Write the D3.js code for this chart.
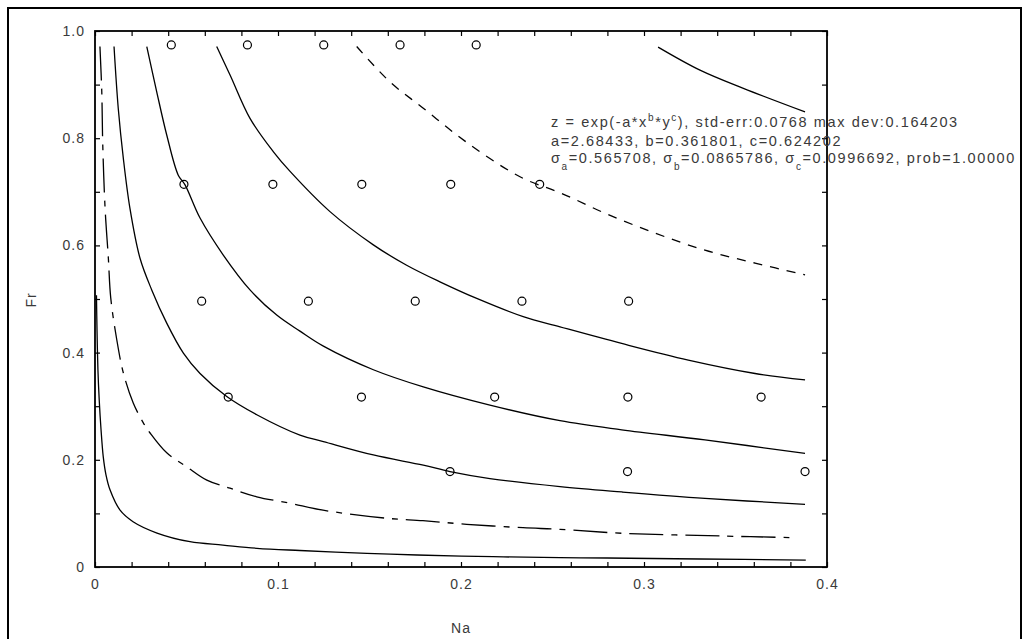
<!DOCTYPE html>
<html>
<head>
<meta charset="utf-8">
<script src="https://cdn.jsdelivr.net/npm/d3@7"></script>
<style>
  html, body { margin: 0; padding: 0; background: #fff; }
  svg { display: block; }
  text { font-family: "Liberation Sans", Arial, sans-serif; fill: #3a3a3a; }
</style>
</head>
<body>
<svg id="chart" width="1024" height="639"></svg>
<script>
// ---------- data ----------
const xTickValues = [0, 0.02, 0.04, 0.06, 0.08, 0.1, 0.12, 0.14, 0.16, 0.18, 0.2, 0.22, 0.24, 0.26, 0.28, 0.3, 0.32, 0.34, 0.36, 0.38, 0.4];
const xTickLabels = ["0", "0.1", "0.2", "0.3", "0.4"];
const yTickValues = [0, 0.1, 0.2, 0.3, 0.4, 0.5, 0.6, 0.7, 0.8, 0.9, 1.0];
const yTickLabels = ["0", "0.2", "0.4", "0.6", "0.8", "1.0"];
const xTitle = "Na";
const yTitle = "Fr";

// observed points (Na, Fr)
const pointsNa = [0.0417, 0.0833, 0.125, 0.1667, 0.2083,
                  0.0486, 0.0972, 0.1458, 0.1944, 0.243,
                  0.0583, 0.1166, 0.175, 0.2333, 0.2916,
                  0.0728, 0.1456, 0.2184, 0.2912, 0.364,
                  0.194, 0.291, 0.388];
const pointsFr = [0.974, 0.974, 0.974, 0.974, 0.974,
                  0.714, 0.714, 0.714, 0.714, 0.714,
                  0.496, 0.496, 0.496, 0.496, 0.496,
                  0.317, 0.317, 0.317, 0.317, 0.317,
                  0.178, 0.178, 0.178];

// contour lines of the fitted surface as [Na, Fr]
const contourA = [[0.0008,0.507],[0.0011,0.442],[0.0016,0.368],[0.0023,0.312],[0.0033,0.256],[0.0045,0.206],[0.006,0.172],[0.0082,0.144],[0.0137,0.106],[0.0208,0.0845],[0.0339,0.0634],[0.0519,0.0472],[0.0699,0.041],[0.0885,0.0349],[0.112,0.0308],[0.1486,0.0256],[0.176,0.0224],[0.2175,0.0192],[0.2541,0.0174],[0.2798,0.0168],[0.3306,0.0149],[0.3884,0.013]];
const contourB = [[0.0027,0.971],[0.0037,0.887],[0.0042,0.793],[0.0055,0.670],[0.0073,0.576],[0.0086,0.502],[0.0119,0.424],[0.0155,0.362],[0.0209,0.306],[0.0264,0.269],[0.0301,0.25],[0.0392,0.213],[0.0501,0.187],[0.0611,0.162],[0.0738,0.147],[0.0884,0.131],[0.1066,0.119],[0.1246,0.106],[0.1594,0.0909],[0.1792,0.0864],[0.2031,0.0797],[0.2339,0.0733],[0.2541,0.0703],[0.2878,0.0629],[0.3425,0.0578],[0.3834,0.0547]];
const contourC = [[0.0104,0.971],[0.0127,0.856],[0.0155,0.762],[0.0191,0.669],[0.0246,0.576],[0.031,0.517],[0.0392,0.455],[0.0483,0.399],[0.0574,0.361],[0.072,0.318],[0.0884,0.284],[0.112,0.246],[0.1248,0.234],[0.1521,0.209],[0.1794,0.19],[0.194,0.178],[0.2158,0.165],[0.2541,0.15],[0.2878,0.140],[0.3333,0.128],[0.388,0.117]];
const contourD = [[0.0283,0.971],[0.0337,0.887],[0.0392,0.806],[0.0455,0.731],[0.0492,0.713],[0.0574,0.651],[0.0701,0.582],[0.0847,0.517],[0.0993,0.470],[0.112,0.440],[0.1248,0.412],[0.1521,0.368],[0.1794,0.336],[0.2158,0.302],[0.2541,0.273],[0.2878,0.256],[0.3333,0.237],[0.388,0.212]];
const contourE = [[0.0665,0.971],[0.0738,0.918],[0.0847,0.837],[0.0974,0.775],[0.1066,0.738],[0.1284,0.663],[0.1521,0.601],[0.1703,0.563],[0.1885,0.532],[0.2086,0.501],[0.234,0.467],[0.2541,0.448],[0.2878,0.417],[0.3242,0.386],[0.3607,0.361],[0.388,0.349]];
const contourF = [[0.143,0.971],[0.1612,0.905],[0.1794,0.856],[0.1977,0.806],[0.2158,0.762],[0.234,0.725],[0.255,0.697],[0.2787,0.66],[0.306,0.623],[0.3333,0.591],[0.3607,0.567],[0.388,0.545]];
const contourG = [[0.3077,0.970],[0.3306,0.927],[0.3543,0.893],[0.388,0.849]];

const fitLine1 = ["z = exp(-a*x", "b", "*y", "c", "), std-err:0.0768 max dev:0.164203"];
const fitLine2 = "a=2.68433, b=0.361801, c=0.624202";
const fitLine3 = ["σ", "a", "=0.565708, σ", "b", "=0.0865786, σ", "c", "=0.0996692, prob=1.00000"];

// ---------- drawing ----------
const svg = d3.select("#chart");
const plot = {left: 95, right: 827, top: 31, bottom: 567};

const x = d3.scaleLinear().domain([0, 0.4]).range([plot.left, plot.right]);
const y = d3.scaleLinear().domain([0, 1]).range([plot.bottom, plot.top]);

// outer frame
svg.append("rect").attr("x", 8).attr("y", 8).attr("width", 1013).attr("height", 640)
  .attr("fill", "none").attr("stroke", "#000").attr("stroke-width", 2);

const labelFmtX = d => {
  const i = Math.round(d / 0.1);
  return Math.abs(d - i * 0.1) < 1e-9 ? xTickLabels[i] : "";
};
const labelFmtY = d => {
  const i = Math.round(d / 0.2);
  return Math.abs(d - i * 0.2) < 1e-9 ? yTickLabels[i] : "";
};

function styleAxis(g) {
  g.select(".domain").remove();
  g.selectAll(".tick line").attr("stroke", "#000").attr("stroke-width", 1.2);
  g.selectAll(".tick text").attr("fill", "#444")
    .style("font-size", "14px").style("letter-spacing", "1px");
}

svg.append("g").attr("transform", `translate(0,${plot.bottom})`)
  .call(d3.axisBottom(x).tickValues(xTickValues).tickSize(-5).tickPadding(12).tickFormat(labelFmtX))
  .call(styleAxis);
svg.append("g").attr("transform", `translate(0,${plot.top})`)
  .call(d3.axisTop(x).tickValues(xTickValues).tickSize(-5).tickFormat(() => ""))
  .call(styleAxis);
svg.append("g").attr("transform", `translate(${plot.left},0)`)
  .call(d3.axisLeft(y).tickValues(yTickValues).tickSize(-5).tickPadding(10).tickFormat(labelFmtY))
  .call(styleAxis);
svg.append("g").attr("transform", `translate(${plot.right},0)`)
  .call(d3.axisRight(y).tickValues(yTickValues).tickSize(-5).tickFormat(() => ""))
  .call(styleAxis);

// plot box
svg.append("rect").attr("x", plot.left).attr("y", plot.top)
  .attr("width", plot.right - plot.left).attr("height", plot.bottom - plot.top)
  .attr("fill", "none").attr("stroke", "#000").attr("stroke-width", 1.8);

// contour lines
const line = d3.line().x(d => x(d[0])).y(d => y(d[1])).curve(d3.curveCatmullRom.alpha(0.5));
const contours = [
  {data: contourA, dash: null},
  {data: contourB, dash: "34,8,6,8"},
  {data: contourC, dash: null},
  {data: contourD, dash: null},
  {data: contourE, dash: null},
  {data: contourF, dash: "9,8"},
  {data: contourG, dash: null}
];
svg.append("g").selectAll("path").data(contours).join("path")
  .attr("d", d => line(d.data))
  .attr("fill", "none").attr("stroke", "#000").attr("stroke-width", 1.3)
  .attr("stroke-dasharray", d => d.dash);

// observed points
svg.append("g").selectAll("circle").data(pointsNa.map((v, i) => [v, pointsFr[i]])).join("circle")
  .attr("cx", d => x(d[0])).attr("cy", d => y(d[1])).attr("r", 4)
  .attr("fill", "none").attr("stroke", "#000").attr("stroke-width", 1.2);

// axis titles
svg.append("text").attr("x", 461).attr("y", 628).attr("text-anchor", "middle")
  .attr("dominant-baseline", "central").style("font-size", "14px").style("letter-spacing", "1px").text(xTitle);
svg.append("text").attr("transform", "translate(31,300) rotate(-90)").attr("text-anchor", "middle")
  .attr("dominant-baseline", "central").style("font-size", "14px").style("letter-spacing", "1px").text(yTitle);

// fit annotation
const ann = svg.append("g").style("font-size", "14.5px").style("letter-spacing", "1.6px");
const tx = 551;
const t1 = ann.append("text").attr("x", tx).attr("y", 127);
fitLine1.forEach((s, i) => {
  const sup = i === 1 || i === 3;
  t1.append("tspan").attr("dy", sup ? -6 : (i === 0 ? 0 : 6))
    .style("font-size", sup ? "10px" : null).text(s);
});
ann.append("text").attr("x", tx).attr("y", 146).text(fitLine2);
const t3 = ann.append("text").attr("x", tx).attr("y", 163);
fitLine3.forEach((s, i) => {
  const sub = i === 1 || i === 3 || i === 5;
  t3.append("tspan").attr("dy", sub ? 7 : (i === 0 ? 0 : -7))
    .style("font-size", sub ? "10px" : null).text(s);
});
</script>
</body>
</html>
